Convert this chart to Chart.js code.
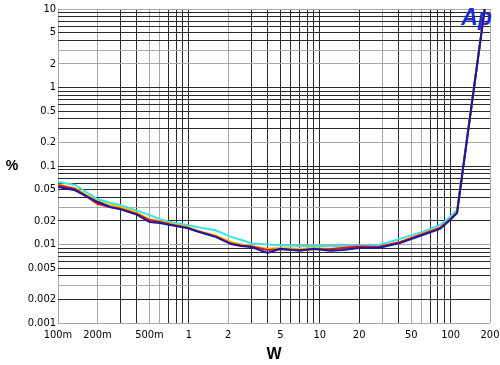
<!DOCTYPE html>
<html>
<head>
<meta charset="utf-8">
<script src="https://cdn.jsdelivr.net/npm/chart.js@4/dist/chart.umd.min.js"></script>
<style>
  html, body { margin: 0; padding: 0; background: #fff; }
  #wrap { width: 500px; height: 365px; position: relative; }
</style>
</head>
<body>
<div id="wrap"><canvas id="c" width="500" height="365"></canvas></div>
<script>
// Power (W)
const powerW = [0.1, 0.135, 0.2, 0.25, 0.3, 0.4, 0.5, 0.6, 0.72, 0.97, 1.2, 1.6, 2.1, 2.5, 3, 4, 5, 7, 9, 12, 15, 20, 28, 41, 61, 83, 99, 112, 183];
// THD+N (%) per channel/trace
const redTrace    = [0.057, 0.051, 0.033, 0.030, 0.0285, 0.0245, 0.0205, 0.0193, 0.018, 0.0163, 0.0145, 0.0127, 0.0103, 0.0097, 0.0094, 0.0085, 0.0087, 0.0085, 0.0087, 0.0087, 0.0090, 0.0094, 0.0093, 0.0107, 0.0135, 0.0162, 0.0208, 0.0255, 10.6];
const yellowTrace = [0.058, 0.052, 0.036, 0.032, 0.030, 0.0255, 0.021, 0.0198, 0.0185, 0.0168, 0.0148, 0.013, 0.0108, 0.0100, 0.0096, 0.0088, 0.0090, 0.0088, 0.0090, 0.0088, 0.0090, 0.0093, 0.0093, 0.0108, 0.0138, 0.0165, 0.021, 0.026, 10.6];
const cyanTrace   = [0.0625, 0.0573, 0.038, 0.034, 0.0318, 0.027, 0.0238, 0.021, 0.0193, 0.0177, 0.0165, 0.0152, 0.0125, 0.0115, 0.0104, 0.0100, 0.0098, 0.0096, 0.0096, 0.0096, 0.0096, 0.0096, 0.0098, 0.0118, 0.0145, 0.0177, 0.0224, 0.0275, 10.6];
const blueTrace   = [0.054, 0.049, 0.035, 0.030, 0.028, 0.024, 0.0193, 0.0188, 0.0177, 0.0162, 0.0144, 0.0125, 0.0101, 0.0096, 0.0093, 0.0078, 0.0088, 0.0083, 0.0088, 0.0083, 0.0085, 0.009, 0.009, 0.0104, 0.0132, 0.0158, 0.0205, 0.0252, 10.6];

// Tick labels
const xTickValues = [0.1, 0.2, 0.5, 1, 2, 5, 10, 20, 50, 100, 200];
const xTickLabels = ['100m', '200m', '500m', '1', '2', '5', '10', '20', '50', '100', '200'];
const yTickValues = [10, 5, 2, 1, 0.5, 0.2, 0.1, 0.05, 0.02, 0.01, 0.005, 0.002, 0.001];
const yTickLabels = ['10', '5', '2', '1', '0.5', '0.2', '0.1', '0.05', '0.02', '0.01', '0.005', '0.002', '0.001'];

// Grid lines that render lighter in the reference
const xLightGrid = [0.1, 0.2, 0.5, 0.6, 2, 30, 50, 60, 200];
const yLightGrid = [10, 3, 2, 0.2, 0.03, 0.01, 0.003, 0.001];

const near = (a, b) => Math.abs(Math.log10(a) - Math.log10(b)) < 1e-6;
function decadeTicks(min, max) {
  const out = [];
  for (let e = Math.floor(Math.log10(min)); e <= Math.ceil(Math.log10(max)); e++) {
    for (let m = 1; m <= 9; m++) {
      const v = parseFloat((m * Math.pow(10, e)).toPrecision(6));
      if (v >= min * 0.9999 && v <= max * 1.0001) out.push(v);
    }
  }
  return out;
}
function labelFor(vals, labels, v) {
  for (let i = 0; i < vals.length; i++) if (near(vals[i], v)) return labels[i];
  return '';
}

const mk = (arr) => powerW.map((x, i) => ({ x: x, y: arr[i] }));
const tickFont = { family: "'Liberation Sans Narrow', 'DejaVu Sans Condensed', sans-serif", size: 11 };

const overlay = {
  id: 'overlay',
  beforeDatasetsDraw(chart) {
    const ctx = chart.ctx;
    const a = chart.chartArea;
    ctx.save();
    ctx.fillStyle = '#1c2ad8';
    ctx.font = "italic bold 23px 'Liberation Sans', Arial, sans-serif";
    ctx.textAlign = 'right';
    ctx.textBaseline = 'middle';
    ctx.fillText('Ap', a.right + 2, a.top + 10);
    ctx.restore();
  },
  afterDraw(chart) {
    const ctx = chart.ctx;
    const a = chart.chartArea;
    ctx.save();
    ctx.fillStyle = '#000';
    ctx.textAlign = 'center';
    ctx.textBaseline = 'middle';
    ctx.font = "bold 14px 'Liberation Sans', Arial, sans-serif";
    ctx.fillText('%', 12, (a.top + a.bottom) / 2);
    ctx.font = "bold 16px 'Liberation Sans', Arial, sans-serif";
    ctx.fillText('W', (a.left + a.right) / 2, 355);
    ctx.restore();
  }
};

new Chart(document.getElementById('c'), {
  type: 'line',
  data: {
    datasets: [
      { data: mk(blueTrace), borderColor: '#1818a8', borderWidth: 2, pointRadius: 0, tension: 0, fill: false },
      { data: mk(redTrace), borderColor: '#e01010', borderWidth: 2, pointRadius: 0, tension: 0, fill: false },
      { data: mk(yellowTrace), borderColor: '#f2c200', borderWidth: 2, pointRadius: 0, tension: 0, fill: false },
      { data: mk(cyanTrace), borderColor: '#38e4e8', borderWidth: 2, pointRadius: 0, tension: 0, fill: false }
    ]
  },
  options: {
    responsive: false,
    animation: false,
    clip: 0,
    layout: { padding: { top: 9, right: 10, left: 0, bottom: 0 } },
    plugins: { legend: { display: false }, tooltip: { enabled: false } },
    scales: {
      x: {
        type: 'logarithmic',
        min: 0.1, max: 200,
        afterBuildTicks: (s) => { s.ticks = decadeTicks(0.1, 200).map(v => ({ value: v })); },
        afterFit: (s) => { s.height = 42; s.paddingLeft = 0; s.paddingRight = 0; },
        ticks: {
          autoSkip: false, maxRotation: 0, minRotation: 0, padding: 6,
          color: '#000', font: tickFont,
          callback: (v) => labelFor(xTickValues, xTickLabels, v)
        },
        grid: {
          drawTicks: false,
          color: (c) => (c.tick && xLightGrid.some(g => near(g, c.tick.value))) ? '#a8a8a8' : '#2a2a2a',
          lineWidth: 1
        },
        border: { display: false }
      },
      y: {
        type: 'logarithmic',
        min: 0.001, max: 10,
        afterBuildTicks: (s) => { s.ticks = decadeTicks(0.001, 10).map(v => ({ value: v })); },
        afterFit: (s) => { s.width = 58; s.paddingTop = 0; s.paddingBottom = 0; },
        ticks: {
          autoSkip: false, padding: 2,
          color: '#000', font: tickFont,
          callback: (v) => labelFor(yTickValues, yTickLabels, v)
        },
        grid: {
          drawTicks: false,
          color: (c) => (c.tick && yLightGrid.some(g => near(g, c.tick.value))) ? '#a8a8a8' : '#2a2a2a',
          lineWidth: 1
        },
        border: { display: false }
      }
    }
  },
  plugins: [overlay]
});
</script>
</body>
</html>
